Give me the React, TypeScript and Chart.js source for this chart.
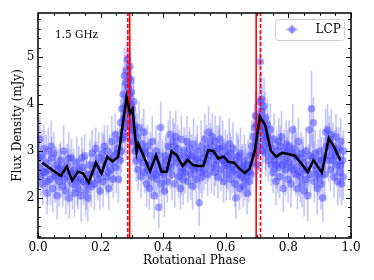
import React, { useEffect, useRef } from "react";
import { Chart, registerables } from "chart.js";

Chart.register(...registerables);

// ---------- data ----------
const xMajorTicks = [0, 0.2, 0.4, 0.6, 0.8, 1.0];
const yMajorTicks = [2, 3, 4, 5];
const xRange = [0, 1];
const yRange = [1.149, 5.936];

const bandLabel = "1.5 GHz";
const seriesLabel = "LCP";

// red marker lines (rotational phase)
const solidMarkers = [0.293, 0.697];
const dashedMarkers = [0.287, 0.711];

// binned average (black line)
const binPhase = [
  0.013, 0.073, 0.092, 0.109, 0.128, 0.144, 0.162, 0.185, 0.203, 0.221, 0.238, 0.256,
  0.283, 0.294, 0.302, 0.315, 0.320, 0.358, 0.377, 0.395, 0.411, 0.427, 0.443, 0.462,
  0.478, 0.496, 0.512, 0.528, 0.544, 0.560, 0.576, 0.594, 0.608, 0.626, 0.643, 0.661,
  0.677, 0.693, 0.709, 0.726, 0.744, 0.761, 0.780, 0.803, 0.821, 0.843, 0.862, 0.880,
  0.907, 0.929, 0.946, 0.966,
];
const binFlux = [
  2.75, 2.47, 2.67, 2.37, 2.56, 2.52, 2.33, 2.75, 2.52, 2.88, 2.78, 2.87,
  4.14, 3.80, 3.89, 2.99, 3.16, 2.57, 2.91, 2.56, 2.56, 3.00, 2.91, 2.68,
  2.81, 2.70, 2.68, 2.68, 3.02, 3.00, 2.84, 2.88, 2.77, 2.75, 2.63, 2.53,
  2.63, 3.02, 3.73, 3.55, 3.00, 2.88, 2.96, 2.93, 2.90, 2.72, 2.55, 2.81,
  2.54, 3.27, 3.09, 2.80,
];

// individual measurements: [phase, flux (mJy), error]
const lcpPoints: [number, number, number][] = [
  [0.003,2.65,0.45],[0.006,3.25,0.5],[0.009,2.45,0.4],[0.012,2.9,0.55],[0.015,2.3,0.45],[0.019,3.05,0.5],[0.022,2.55,0.4],[0.026,2.75,0.6],[0.029,2.1,0.45],[0.033,3.0,0.5],[0.036,2.6,0.4],[0.040,2.4,0.55],[0.044,2.85,0.45],[0.047,2.2,0.5],[0.051,2.95,0.45],[0.054,2.5,0.6],[0.058,2.7,0.4],[0.061,2.05,0.5],[0.065,2.6,0.45],[0.068,2.35,0.55],[0.072,2.8,0.4],[0.075,2.5,0.5],[0.079,2.25,0.45],[0.082,3.0,0.55],[0.086,2.6,0.4],[0.089,2.15,0.5],[0.093,2.7,0.45],[0.096,2.45,0.6],[0.100,2.0,0.45],[0.103,2.55,0.5],[0.107,2.85,0.4],[0.110,2.3,0.55],[0.114,2.6,0.45],[0.117,2.1,0.5],[0.121,2.45,0.4],[0.124,2.75,0.55],[0.128,2.2,0.45],[0.131,2.6,0.5],[0.135,2.4,0.45],[0.138,2.05,0.55],[0.142,2.65,0.4],[0.145,2.35,0.5],[0.149,2.9,0.45],[0.152,2.15,0.55],[0.156,2.5,0.4],[0.159,2.0,0.5],[0.163,2.35,0.45],[0.166,2.7,0.55],[0.170,2.25,0.45],[0.173,2.95,0.5],[0.177,2.55,0.4],[0.180,2.3,0.55],[0.184,3.05,0.45],[0.187,2.7,0.5],[0.191,2.4,0.45],[0.194,2.85,0.55],[0.198,2.15,0.4],[0.201,2.6,0.5],[0.205,2.95,0.45],[0.208,2.35,0.55],[0.212,3.1,0.45],[0.215,2.7,0.5],[0.219,2.45,0.4],[0.222,3.0,0.55],[0.226,2.2,0.45],[0.229,2.85,0.5],[0.233,2.6,0.45],[0.236,3.2,0.55],[0.240,2.4,0.4],[0.243,2.9,0.5],[0.247,3.35,0.45],[0.250,2.65,0.55],[0.254,3.05,0.45],[0.257,2.4,0.5],[0.261,3.25,0.45],
  [0.264,3.6,0.5],[0.266,3.0,0.45],[0.268,3.9,0.55],[0.270,3.4,0.5],[0.272,4.2,0.6],[0.274,3.7,0.5],[0.276,4.6,0.6],[0.278,3.95,0.55],[0.280,4.45,0.6],[0.281,3.3,0.5],[0.283,4.7,0.6],[0.285,4.1,0.55],[0.286,4.95,0.6],[0.288,4.35,0.55],[0.290,3.85,0.5],[0.291,4.55,0.6],[0.293,4.8,0.6],[0.295,4.0,0.55],[0.297,3.6,0.5],[0.298,4.25,0.55],[0.300,3.45,0.5],[0.302,3.9,0.55],[0.304,3.2,0.5],[0.306,4.05,0.55],[0.308,3.55,0.5],[0.310,3.0,0.45],[0.312,3.35,0.5],
  [0.314,2.8,0.45],[0.317,3.3,0.5],[0.320,2.6,0.45],[0.323,3.5,0.55],[0.326,3.0,0.5],[0.329,2.45,0.45],[0.332,3.15,0.55],[0.335,2.75,0.45],[0.338,3.4,0.5],[0.341,2.55,0.45],[0.344,2.95,0.55],[0.347,2.3,0.5],[0.350,3.1,0.45],[0.353,2.7,0.55],[0.356,2.2,0.45],[0.359,2.9,0.5],[0.362,2.45,0.45],[0.365,3.2,0.55],[0.368,2.6,0.45],[0.371,2.05,0.5],[0.374,2.85,0.45],[0.377,3.0,0.55],[0.380,2.4,0.45],[0.383,2.7,0.5],[0.386,1.8,0.45],[0.389,2.55,0.5],[0.392,3.5,0.55],[0.395,2.3,0.45],[0.398,2.75,0.5],[0.401,2.5,0.45],[0.404,2.15,0.55],[0.407,2.9,0.45],[0.410,2.6,0.5],[0.413,2.35,0.45],[0.416,3.1,0.55],[0.419,2.7,0.45],[0.422,3.35,0.5],[0.425,2.85,0.45],[0.428,2.5,0.55],[0.431,3.2,0.5],[0.434,2.95,0.45],[0.437,2.3,0.5],[0.440,3.3,0.55],[0.443,2.75,0.45],[0.446,3.05,0.5],[0.449,2.45,0.45],[0.452,2.9,0.55],[0.455,2.2,0.45],[0.458,3.25,0.5],[0.461,2.65,0.45],[0.464,2.4,0.55],[0.467,3.0,0.5],[0.470,2.55,0.45],[0.473,2.85,0.5],[0.476,3.2,0.55],[0.479,2.35,0.45],[0.482,2.7,0.5],[0.485,3.05,0.45],[0.488,2.5,0.55],[0.491,2.9,0.45],[0.494,2.25,0.5],[0.497,3.15,0.55],[0.500,2.6,0.45],[0.503,2.8,0.5],[0.506,2.4,0.45],[0.509,3.0,0.55],[0.512,2.65,0.45],[0.515,1.9,0.5],[0.518,2.75,0.45],[0.521,3.1,0.55],[0.524,2.45,0.45],[0.527,2.85,0.5],[0.530,2.6,0.45],[0.533,3.25,0.55],[0.536,2.75,0.45],[0.539,3.05,0.5],[0.542,2.5,0.45],[0.545,3.4,0.55],[0.548,2.9,0.5],[0.551,3.15,0.45],[0.554,2.65,0.55],[0.557,3.3,0.5],[0.560,2.95,0.45],[0.563,2.55,0.5],[0.566,3.2,0.55],[0.569,2.8,0.45],[0.572,3.05,0.5],[0.575,2.45,0.45],[0.578,2.9,0.55],[0.581,3.25,0.5],[0.584,2.6,0.45],[0.587,2.85,0.5],[0.590,3.1,0.55],[0.593,2.35,0.45],[0.596,2.75,0.5],[0.599,3.0,0.45],[0.602,2.5,0.55],[0.605,2.9,0.45],[0.608,2.65,0.5],[0.611,3.15,0.55],[0.614,2.4,0.45],[0.617,2.8,0.5],[0.620,2.55,0.45],[0.623,3.05,0.55],[0.626,2.7,0.45],[0.629,2.3,0.5],[0.632,2.0,0.45],[0.635,2.85,0.55],[0.638,2.5,0.45],[0.641,2.75,0.5],[0.644,2.2,0.45],[0.647,2.95,0.55],[0.650,2.45,0.45],[0.653,2.65,0.5],[0.656,2.25,0.45],[0.659,2.8,0.55],[0.662,2.4,0.45],[0.665,2.55,0.5],[0.668,2.1,0.45],[0.671,2.7,0.55],[0.674,2.35,0.45],[0.677,2.9,0.5],[0.680,2.5,0.45],[0.683,3.1,0.55],[0.686,2.75,0.45],[0.689,3.3,0.5],
  [0.692,3.5,0.5],[0.694,2.9,0.45],[0.696,3.2,0.5],[0.698,3.55,0.55],[0.700,2.7,0.45],[0.702,3.35,0.5],[0.704,3.7,0.55],[0.706,3.1,0.5],[0.708,4.05,0.6],[0.710,4.9,0.65],[0.712,3.45,0.5],[0.714,3.85,0.55],[0.716,3.0,0.5],[0.718,3.6,0.55],[0.720,3.25,0.5],[0.722,3.95,0.6],[0.724,3.4,0.5],[0.726,3.7,0.55],[0.728,2.95,0.5],[0.730,3.3,0.5],[0.733,3.55,0.55],[0.736,2.8,0.45],[0.739,3.15,0.5],[0.742,3.45,0.55],[0.745,2.7,0.45],
  [0.748,3.05,0.5],[0.751,2.55,0.45],[0.754,3.25,0.55],[0.757,2.8,0.45],[0.760,2.35,0.5],[0.763,3.0,0.45],[0.766,2.65,0.55],[0.769,3.2,0.5],[0.772,2.45,0.45],[0.775,2.9,0.5],[0.778,3.3,0.55],[0.781,2.7,0.45],[0.784,2.2,0.5],[0.787,3.0,0.45],[0.790,2.6,0.55],[0.793,3.15,0.5],[0.796,2.85,0.45],[0.799,2.4,0.5],[0.802,3.1,0.55],[0.805,2.75,0.45],[0.808,2.3,0.5],[0.811,2.95,0.45],[0.814,3.45,0.55],[0.817,2.6,0.45],[0.820,3.05,0.5],[0.823,2.5,0.45],[0.826,2.85,0.55],[0.829,2.2,0.45],[0.832,3.2,0.5],[0.835,2.7,0.45],[0.838,2.45,0.55],[0.841,2.95,0.45],[0.844,2.3,0.5],[0.847,2.75,0.45],[0.850,2.15,0.55],[0.853,2.6,0.45],[0.856,3.0,0.5],[0.859,2.4,0.45],[0.862,2.05,0.55],[0.865,2.7,0.45],[0.868,3.45,0.5],[0.871,2.5,0.45],[0.874,3.9,0.8],[0.877,2.85,0.5],[0.880,3.6,0.55],[0.883,2.35,0.45],[0.886,2.95,0.5],[0.889,2.6,0.45],[0.892,2.2,0.55],[0.895,2.8,0.45],[0.898,2.45,0.5],[0.901,3.0,0.45],[0.904,2.3,0.55],[0.907,2.65,0.45],[0.910,2.0,0.5],[0.913,2.85,0.45],[0.916,2.5,0.55],[0.919,3.4,0.5],[0.922,3.1,0.45],[0.925,3.45,0.55],[0.928,2.8,0.45],[0.931,3.25,0.5],[0.934,2.6,0.45],[0.937,3.35,0.55],[0.940,2.95,0.45],[0.943,3.1,0.5],[0.946,2.45,0.45],[0.949,2.9,0.55],[0.952,3.3,0.5],[0.955,2.7,0.45],[0.958,2.35,0.5],[0.961,3.05,0.45],[0.964,2.55,0.55],[0.967,3.2,0.5],[0.970,2.3,0.45],[0.973,2.8,0.5],[0.976,3.0,0.45],
  [0.005,2.85,0.5],[0.017,2.55,0.45],[0.031,2.35,0.5],[0.042,3.1,0.55],[0.056,2.45,0.45],[0.070,2.65,0.5],[0.084,2.4,0.45],[0.098,2.85,0.55],[0.112,2.5,0.45],[0.126,2.35,0.5],[0.140,2.85,0.45],[0.154,2.3,0.55],[0.168,2.5,0.45],[0.182,2.7,0.5],[0.196,2.5,0.45],[0.210,2.8,0.55],[0.224,2.55,0.45],[0.238,2.75,0.5],[0.252,2.95,0.45],[0.263,2.8,0.5],[0.269,3.25,0.5],[0.277,3.5,0.55],[0.282,3.85,0.55],[0.287,3.6,0.55],[0.292,4.2,0.6],[0.296,4.5,0.6],[0.301,3.7,0.55],[0.307,3.45,0.5],[0.316,3.05,0.5],[0.327,2.85,0.45],[0.339,3.0,0.5],[0.351,2.6,0.45],[0.363,2.75,0.5],[0.375,2.5,0.45],[0.387,2.9,0.5],[0.399,2.6,0.45],[0.411,2.8,0.5],[0.423,2.65,0.45],[0.435,3.1,0.5],[0.447,2.85,0.45],[0.459,2.55,0.5],[0.471,2.75,0.45],[0.483,2.9,0.5],[0.495,2.65,0.45],[0.507,2.85,0.5],[0.519,2.55,0.45],[0.531,2.95,0.5],[0.543,2.8,0.45],[0.555,3.0,0.5],[0.567,2.7,0.45],[0.579,3.05,0.5],[0.591,2.8,0.45],[0.603,2.7,0.5],[0.615,2.95,0.45],[0.627,2.6,0.5],[0.639,2.9,0.45],[0.651,2.6,0.5],[0.663,2.7,0.45],[0.675,2.55,0.5],[0.687,2.95,0.45],[0.695,3.75,0.55],[0.703,3.0,0.5],[0.709,3.6,0.55],[0.715,4.1,0.6],[0.721,3.5,0.55],[0.727,3.1,0.5],[0.735,3.3,0.5],[0.750,2.9,0.45],[0.762,2.7,0.5],[0.774,3.1,0.45],[0.786,2.75,0.5],[0.798,3.0,0.45],[0.810,2.65,0.5],[0.822,2.9,0.45],[0.834,2.55,0.5],[0.846,2.85,0.45],[0.858,2.6,0.5],[0.870,2.9,0.45],[0.882,2.7,0.5],[0.894,2.5,0.45],[0.906,2.8,0.5],[0.918,2.9,0.45],[0.930,3.1,0.5],[0.942,2.8,0.45],[0.954,3.0,0.5],[0.966,2.7,0.45],[0.975,2.45,0.5],
];

// ---------- styles ----------
const SERIF = "'DejaVu Serif', serif";
const DOT_COLOR = "rgba(70,70,255,0.5)";
const ERR_COLOR = "rgba(100,100,255,0.38)";

const errorBarPlugin = {
  id: "errorBars",
  beforeDatasetsDraw(chart: any) {
    const { ctx, chartArea, scales } = chart;
    const x = scales.x;
    const y = scales.y;
    ctx.save();
    ctx.beginPath();
    ctx.rect(chartArea.left, chartArea.top, chartArea.right - chartArea.left, chartArea.bottom - chartArea.top);
    ctx.clip();
    ctx.strokeStyle = ERR_COLOR;
    ctx.lineWidth = 1.6;
    for (const [p, f, e] of lcpPoints) {
      const px = x.getPixelForValue(p);
      ctx.beginPath();
      ctx.moveTo(px, y.getPixelForValue(f - e));
      ctx.lineTo(px, y.getPixelForValue(f + e));
      ctx.stroke();
    }
    ctx.restore();
  },
};

const framePlugin = {
  id: "frameDecor",
  afterDraw(chart: any) {
    const { ctx, chartArea, scales } = chart;
    const { left, right, top, bottom } = chartArea;
    const x = scales.x;
    const y = scales.y;
    ctx.save();

    // annotation text
    ctx.fillStyle = "#000";
    ctx.font = `10.5px ${SERIF}`;
    ctx.textBaseline = "middle";
    ctx.textAlign = "left";
    ctx.fillText(bandLabel, left + 17, top + 22);

    // legend
    const bx = right - 75.5, by = top + 6.5, bw = 69, bh = 21;
    ctx.beginPath();
    (ctx as any).roundRect(bx, by, bw, bh, 3);
    ctx.fillStyle = "rgba(255,255,255,0.8)";
    ctx.fill();
    ctx.strokeStyle = "#d0d0d0";
    ctx.lineWidth = 1;
    ctx.stroke();
    const mx = bx + 16.5, my = by + 10;
    ctx.strokeStyle = "rgba(100,100,255,0.5)";
    ctx.lineWidth = 1.6;
    ctx.beginPath();
    ctx.moveTo(mx - 6, my); ctx.lineTo(mx + 6, my);
    ctx.moveTo(mx, my - 5); ctx.lineTo(mx, my + 5);
    ctx.stroke();
    ctx.beginPath();
    ctx.arc(mx, my, 3.6, 0, Math.PI * 2);
    ctx.fillStyle = DOT_COLOR;
    ctx.fill();
    ctx.fillStyle = "#000";
    ctx.font = `12px ${SERIF}`;
    ctx.fillText(seriesLabel, bx + 40, my + 0.5);

    // frame
    ctx.strokeStyle = "#000";
    ctx.lineWidth = 1.5;
    ctx.strokeRect(left, top, right - left, bottom - top);

    // ticks (inward, all sides)
    ctx.lineWidth = 1;
    const major = 5, minor = 2.8;
    ctx.beginPath();
    for (let v = xRange[0]; v <= xRange[1] + 1e-9; v += 0.05) {
      const isMajor = xMajorTicks.some((t) => Math.abs(t - v) < 1e-6);
      const len = isMajor ? major : minor;
      const px = Math.round(x.getPixelForValue(v)) + 0.5;
      ctx.moveTo(px, bottom); ctx.lineTo(px, bottom - len);
      ctx.moveTo(px, top); ctx.lineTo(px, top + len);
    }
    for (let v = 1.2; v <= yRange[1]; v += 0.2) {
      const isMajor = yMajorTicks.some((t) => Math.abs(t - v) < 1e-6);
      const len = isMajor ? major : minor;
      const py = Math.round(y.getPixelForValue(v)) + 0.5;
      ctx.moveTo(left, py); ctx.lineTo(left + len, py);
      ctx.moveTo(right, py); ctx.lineTo(right - len, py);
    }
    ctx.stroke();
    ctx.restore();
  },
};

export default function App() {
  const ref = useRef<HTMLCanvasElement | null>(null);

  useEffect(() => {
    document.body.style.margin = "0";
    const canvas = ref.current;
    if (!canvas) return;

    const markerLine = (v: number, dashed: boolean) => ({
      type: "line" as const,
      data: [
        { x: v, y: yRange[0] },
        { x: v, y: yRange[1] },
      ],
      borderColor: "#ff0000",
      borderWidth: 1.6,
      borderDash: dashed ? [4, 2] : [],
      pointRadius: 0,
      showLine: true,
      order: 1,
    });

    const chart = new Chart(canvas, {
      type: "scatter",
      data: {
        datasets: [
          {
            type: "line",
            label: "binned",
            data: binPhase.map((p, i) => ({ x: p, y: binFlux[i] })),
            borderColor: "#000",
            borderWidth: 2.5,
            pointRadius: 0,
            showLine: true,
            tension: 0,
            order: 0,
          } as any,
          ...solidMarkers.map((v) => markerLine(v, false)),
          ...dashedMarkers.map((v) => markerLine(v, true)),
          {
            type: "scatter",
            label: seriesLabel,
            data: lcpPoints.map(([p, f]) => ({ x: p, y: f })),
            backgroundColor: DOT_COLOR,
            borderWidth: 0,
            pointRadius: 3.8,
            order: 2,
          } as any,
        ],
      },
      options: {
        animation: false,
        responsive: false,
        devicePixelRatio: 1,
        layout: { padding: { top: 13, right: 23, left: 0, bottom: 0 } },
        plugins: { legend: { display: false }, tooltip: { enabled: false } },
        scales: {
          x: {
            type: "linear",
            min: xRange[0],
            max: xRange[1],
            afterBuildTicks: (s: any) => {
              s.ticks = xMajorTicks.map((v) => ({ value: v }));
            },
            afterFit: (s: any) => {
              s.height = 42;
            },
            grid: { display: false, drawTicks: false },
            border: { display: false },
            ticks: {
              padding: 3,
              color: "#000",
              font: { family: SERIF, size: 12 },
              maxRotation: 0,
              callback: (v: any) => Number(v).toFixed(1),
            },
            title: {
              display: true,
              text: "Rotational Phase",
              color: "#000",
              font: { family: SERIF, size: 12 },
              padding: { top: 0, bottom: 12 },
            },
          },
          y: {
            type: "linear",
            min: yRange[0],
            max: yRange[1],
            afterBuildTicks: (s: any) => {
              s.ticks = yMajorTicks.map((v) => ({ value: v }));
            },
            afterFit: (s: any) => {
              s.width = 38;
            },
            grid: { display: false, drawTicks: false },
            border: { display: false },
            ticks: {
              padding: 3.5,
              color: "#000",
              font: { family: SERIF, size: 12 },
              callback: (v: any) => String(v),
            },
            title: {
              display: true,
              text: "Flux Density (mJy)",
              color: "#000",
              font: { family: SERIF, size: 12 },
              padding: { top: 10.8, bottom: 0 },
            },
          },
        },
      },
      plugins: [errorBarPlugin, framePlugin],
    } as any);

    return () => chart.destroy();
  }, []);

  return (
    <div style={{ width: 374, height: 280 }}>
      <canvas ref={ref} width={374} height={280} style={{ display: "block" }} />
    </div>
  );
}
